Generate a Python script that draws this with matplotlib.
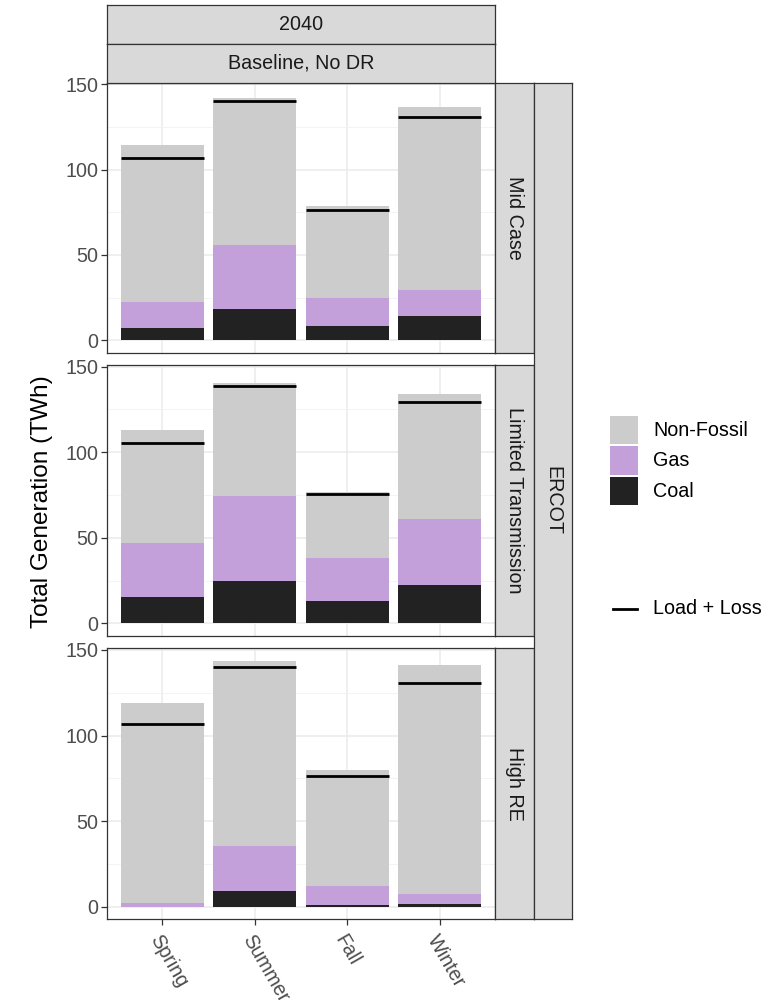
import matplotlib
matplotlib.use("Agg")
import matplotlib.pyplot as plt
from matplotlib.patches import Rectangle
from matplotlib.lines import Line2D
import numpy as np

plt.rcParams['font.family'] = ['Liberation Sans', 'DejaVu Sans']

seasons = ["Spring", "Summer", "Fall", "Winter"]
scenarios = ["Mid Case", "Limited Transmission", "High RE"]
coal = [[7.0, 18.5, 8.2, 14.0],
        [15.2, 24.7, 13.0, 22.2],
        [0.0, 9.0, 0.8, 1.4]]
gas = [[15.4, 37.4, 16.7, 15.2],
       [31.9, 49.9, 25.2, 38.8],
       [2.3, 26.5, 11.1, 5.8]]
nonfossil = [[91.8, 86.0, 53.5, 107.2],
             [65.9, 65.8, 38.4, 72.8],
             [116.7, 108.3, 67.8, 134.1]]
load_loss = [[106.6, 140.0, 76.4, 130.8],
             [105.6, 138.9, 75.8, 129.3],
             [106.8, 140.3, 76.4, 130.8]]
yticks = [0, 50, 100, 150]

col_coal = "#222222"
col_gas = "#C3A0DA"
col_nf = "#CCCCCC"
strip_fill = "#D9D9D9"
border = "#333333"

W, H = 769, 1002
fig = plt.figure(figsize=(W / 100, H / 100), dpi=100)


def px_axes(x0, y0, x1, y1, **kw):
    return fig.add_axes([x0 / W, 1 - y1 / H, (x1 - x0) / W, (y1 - y0) / H], **kw)


totals = [[c + g + n for c, g, n in zip(cr, gr, nr)] for cr, gr, nr in zip(coal, gas, nonfossil)]
ymax = max(max(r) for r in totals)
ylim = (-0.05 * ymax, 1.05 * ymax)

px0, px1 = 107, 495
panels_y = [(82.5, 352.6), (365.0, 635.6), (648.3, 919.0)]
fs = 14.2
x = np.arange(len(seasons))

for i, (y0, y1) in enumerate(panels_y):
    ax = px_axes(px0, y0, px1, y1)
    ax.set_xlim(-0.6, len(seasons) - 0.4)
    ax.set_ylim(*ylim)
    ax.set_yticks(yticks)
    ax.set_yticks([25, 75, 125], minor=True)
    ax.set_xticks(x)
    ax.grid(True, which='major', color='#EBEBEB', lw=1.1, zorder=0)
    ax.grid(True, which='minor', axis='y', color='#F2F2F2', lw=0.6, zorder=0)
    ax.set_axisbelow(True)
    c = np.array(coal[i]); g = np.array(gas[i]); n = np.array(nonfossil[i])
    ax.bar(x, c, width=0.9, color=col_coal, zorder=2)
    ax.bar(x, g, bottom=c, width=0.9, color=col_gas, zorder=2)
    ax.bar(x, n, bottom=c + g, width=0.9, color=col_nf, zorder=2)
    for j, v in enumerate(load_loss[i]):
        ax.hlines(v, x[j] - 0.45, x[j] + 0.45, color='black', lw=2.0, zorder=3)
    for s in ax.spines.values():
        s.set_color(border)
        s.set_linewidth(0.9)
    ax.tick_params(axis='both', which='major', colors=border, length=4, width=0.9,
                   labelcolor='#4D4D4D', labelsize=fs, pad=2)
    ax.tick_params(axis='y', which='minor', length=0)
    if i < 2:
        ax.tick_params(axis='x', labelbottom=False, length=0)
    else:
        ax.set_xticklabels(seasons, rotation=-60, ha='left', va='top',
                           rotation_mode='anchor')
        ax.tick_params(axis='x', pad=5)

    # row strip
    sax = px_axes(495.3, y0, 534, y1)
    sax.set_facecolor(strip_fill)
    sax.set_xticks([]); sax.set_yticks([])
    for s in sax.spines.values():
        s.set_color(border); s.set_linewidth(0.9)
    sax.text(0.5, 0.5, scenarios[i], rotation=-90, ha='center', va='center',
             fontsize=fs, color='#1A1A1A', transform=sax.transAxes)

# ERCOT strip
eax = px_axes(534, 82.5, 572.3, 919.0)
eax.set_facecolor(strip_fill)
eax.set_xticks([]); eax.set_yticks([])
for s in eax.spines.values():
    s.set_color(border); s.set_linewidth(0.9)
eax.text(0.5, 0.5, "ERCOT", rotation=-90, ha='center', va='center',
         fontsize=fs, color='#1A1A1A', transform=eax.transAxes)

# top strips
for (ya, yb, lab) in [(5.0, 43.7, "2040"), (43.7, 82.5, "Baseline, No DR")]:
    tax = px_axes(px0, ya, px1, yb)
    tax.set_facecolor(strip_fill)
    tax.set_xticks([]); tax.set_yticks([])
    for s in tax.spines.values():
        s.set_color(border); s.set_linewidth(0.9)
    tax.text(0.5, 0.5, lab, ha='center', va='center', fontsize=fs,
             color='#1A1A1A', transform=tax.transAxes)

# y label
fig.text(42 / W, 1 - 502 / H, "Total Generation (TWh)", rotation=90,
         ha='center', va='center', fontsize=17.6, color='black')

# legend
lax = px_axes(0, 0, W, H)
lax.set_xlim(0, W); lax.set_ylim(H, 0)
lax.axis('off')
keys = [("Non-Fossil", col_nf, 415.7), ("Gas", col_gas, 446.0), ("Coal", col_coal, 476.5)]
for lab, col, yk in keys:
    lax.add_patch(Rectangle((610, yk), 28, 28.5, facecolor=col, edgecolor='none'))
    lax.text(653, yk + 14.5, lab, ha='left', va='center', fontsize=fs, color='black')
lax.add_line(Line2D([612.7, 636.7], [608.5, 608.5], color='black', lw=2.0))
lax.text(653, 608.5, "Load + Loss", ha='left', va='center', fontsize=fs, color='black')

fig.savefig("out.png", dpi=100)
